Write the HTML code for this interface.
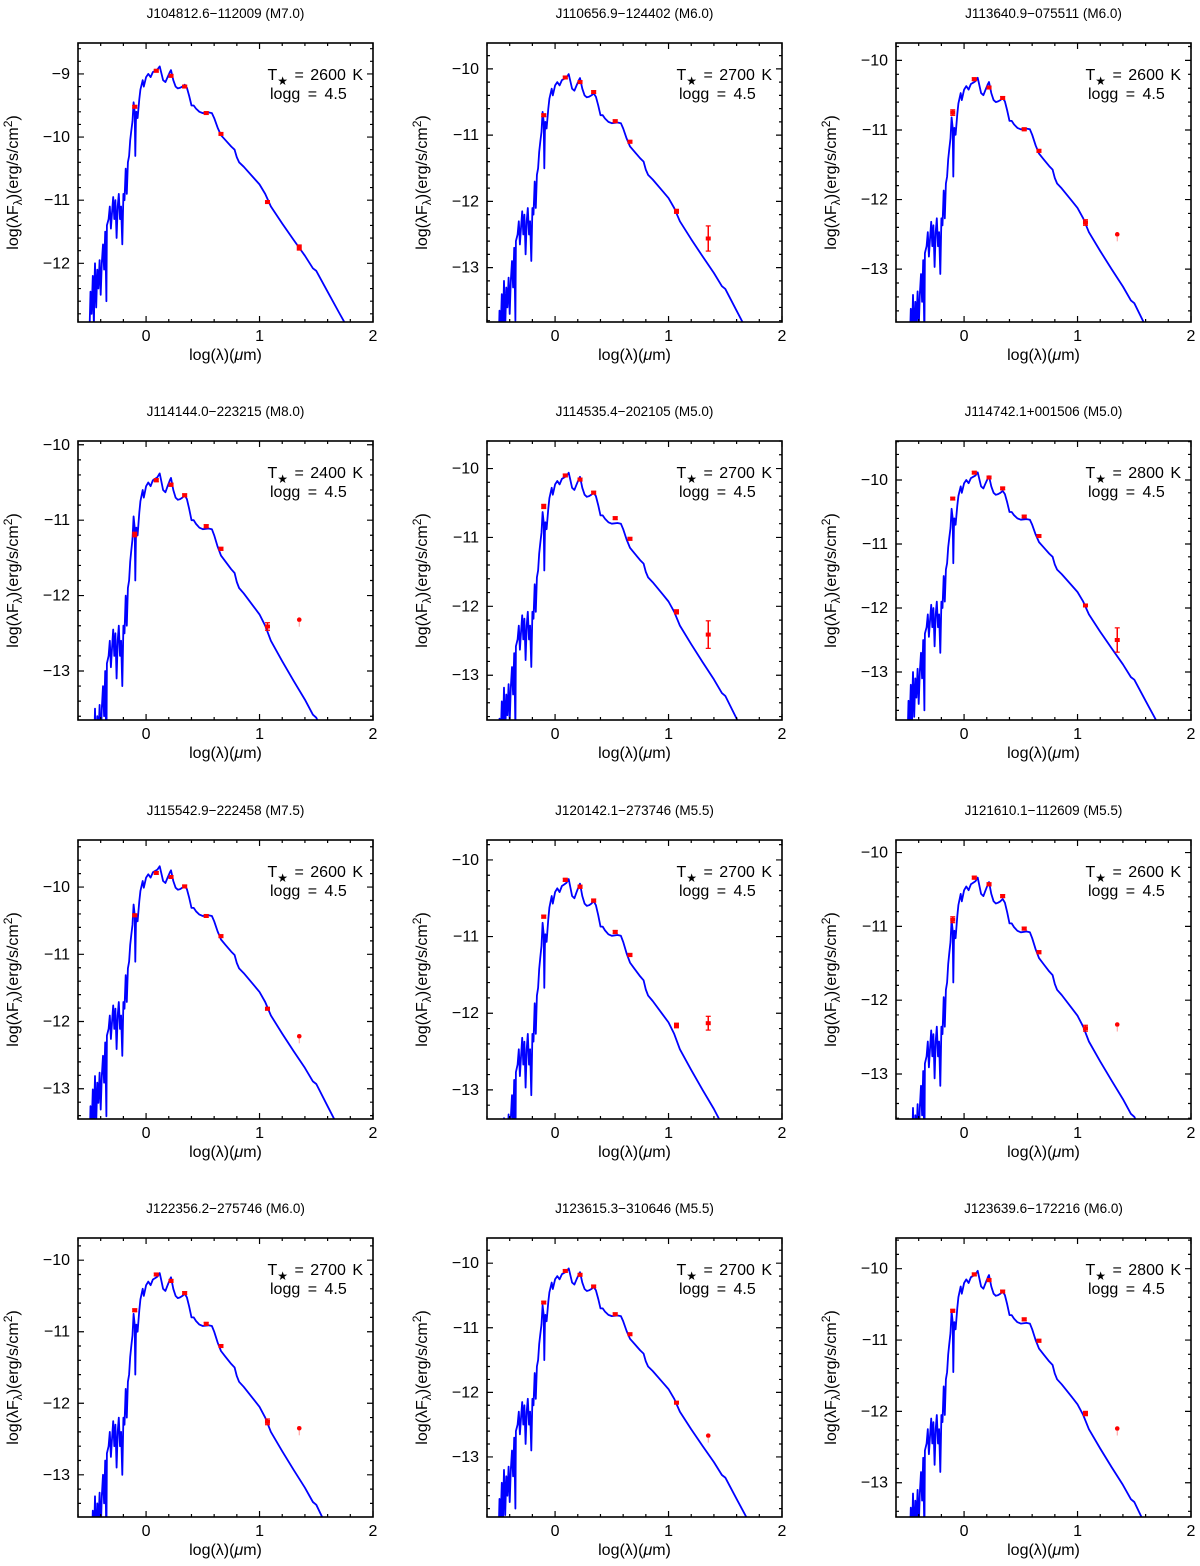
<!DOCTYPE html>
<html><head><meta charset="utf-8"><title>SED fits</title>
<style>
html,body{margin:0;padding:0;background:#fff;}
svg{display:block;font-family:"Liberation Sans",sans-serif;}
</style></head>
<body>
<svg id="fig" width="1200" height="1566" viewBox="0 0 1200 1566" xmlns="http://www.w3.org/2000/svg"></svg>
<script>
// ---- data ----
const titles = ["J104812.6\u2212112009 (M7.0)","J110656.9\u2212124402 (M6.0)","J113640.9\u2212075511 (M6.0)",
"J114144.0\u2212223215 (M8.0)","J114535.4\u2212202105 (M5.0)","J114742.1+001506 (M5.0)",
"J115542.9\u2212222458 (M7.5)","J120142.1\u2212273746 (M5.5)","J121610.1\u2212112609 (M5.5)",
"J122356.2\u2212275746 (M6.0)","J123615.3\u2212310646 (M5.5)","J123639.6\u2212172216 (M6.0)"];
const teffs = [2600,2700,2600,2400,2700,2800,2600,2700,2600,2700,2700,2800];
const yTop = [-8.51,-9.61,-9.75,-9.95,-9.60,-9.39,-9.30,-9.74,-9.83,-9.69,-9.61,-9.57];
const yBottom = [-12.93,-13.82,-13.76,-13.65,-13.65,-13.75,-13.45,-13.38,-13.61,-13.59,-13.93,-13.48];
const peaks = [-8.88,-10.08,-10.25,-10.38,-10.06,-9.88,-9.69,-10.25,-10.34,-10.18,-10.08,-10.03];
const bandX = [-0.1,0.09,0.22,0.34,0.53,0.66,1.07,1.35];
const fluxes = [
[-9.52,-8.95,-9.03,-9.20,-9.62,-9.95,-11.03,-11.75],
[-10.70,-10.13,-10.20,-10.35,-10.79,-11.10,-12.15,-12.56],
[-10.75,-10.27,-10.39,-10.54,-10.99,-11.30,-12.33,-12.50],
[-11.19,-10.47,-10.53,-10.67,-11.08,-11.38,-12.41,-12.32],
[-10.55,-10.10,-10.16,-10.35,-10.72,-11.02,-12.08,-12.41],
[-10.29,-9.885,-9.96,-10.13,-10.57,-10.875,-11.96,-12.50],
[-10.42,-9.79,-9.85,-9.99,-10.43,-10.73,-11.81,-12.22],
[-10.74,-10.26,-10.35,-10.53,-10.94,-11.24,-12.16,-12.13],
[-10.91,-10.34,-10.43,-10.59,-11.03,-11.35,-12.38,-12.33],
[-10.70,-10.20,-10.29,-10.46,-10.89,-11.20,-12.26,-12.35],
[-10.61,-10.12,-10.18,-10.36,-10.79,-11.10,-12.16,-12.67],
[-10.59,-10.08,-10.16,-10.32,-10.71,-11.01,-12.03,-12.24]];
const errors = [
[0.02,0.02,0.02,0.02,0.02,0.02,0.02,0.04],
[0.02,0.02,0.02,0.02,0.02,0.02,0.03,0.19],
[0.04,0.02,0.02,0.02,0.02,0.02,0.04,0],
[0.03,0.02,0.02,0.02,0.02,0.02,0.05,0],
[0.03,0.02,0.02,0.02,0.02,0.02,0.03,0.20],
[0.02,0.02,0.02,0.02,0.02,0.02,0.02,0.19],
[0.02,0.02,0.02,0.02,0.02,0.02,0.02,0],
[0.02,0.02,0.02,0.02,0.02,0.02,0.03,0.09],
[0.04,0.02,0.02,0.02,0.02,0.02,0.04,0],
[0.02,0.02,0.02,0.02,0.02,0.02,0.04,0],
[0.02,0.02,0.02,0.02,0.02,0.02,0.02,0],
[0.02,0.02,0.02,0.02,0.02,0.02,0.03,0]];
const isLimit = [
[0,0,0,0,0,0,0,0],[0,0,0,0,0,0,0,0],[0,0,0,0,0,0,0,1],[0,0,0,0,0,0,0,1],
[0,0,0,0,0,0,0,0],[0,0,0,0,0,0,0,0],[0,0,0,0,0,0,0,1],[0,0,0,0,0,0,0,0],
[0,0,0,0,0,0,0,1],[0,0,0,0,0,0,0,1],[0,0,0,0,0,0,0,1],[0,0,0,0,0,0,0,1]];
// model spectrum template (log lambda, log flux for a peak of -8.88)
const modelX = [-0.50,-0.49,-0.48,-0.47,-0.46,-0.455,-0.45,-0.44,-0.43,-0.42,-0.41,-0.40,-0.39,-0.38,-0.37,-0.36,-0.35,-0.345,-0.33,-0.32,-0.31,-0.30,-0.29,-0.28,-0.27,-0.26,-0.25,-0.24,-0.23,-0.22,-0.21,-0.20,-0.19,-0.18,-0.17,-0.16,-0.15,-0.14,-0.13,-0.12,-0.11,-0.10,-0.095,-0.09,-0.085,-0.075,-0.06,-0.05,-0.03,-0.02,0.0,0.02,0.04,0.06,0.08,0.10,0.12,0.13,0.15,0.17,0.19,0.21,0.22,0.24,0.26,0.28,0.30,0.32,0.34,0.36,0.38,0.40,0.42,0.44,0.47,0.50,0.55,0.58,0.60,0.63,0.66,0.70,0.75,0.78,0.80,0.82,0.86,0.95,1.00,1.05,1.10,1.20,1.30,1.40,1.47,1.50,1.60,1.70,1.80,1.90];
const modelY = [-13.2,-12.45,-12.8,-12.2,-13.0,-12.3,-12.0,-12.7,-12.1,-12.4,-11.95,-12.5,-12.0,-11.7,-12.1,-11.5,-12.6,-11.4,-11.3,-11.1,-11.45,-11.2,-10.95,-11.3,-11.0,-11.6,-11.1,-10.9,-11.3,-11.1,-11.7,-10.9,-11.0,-10.5,-10.9,-10.4,-10.3,-10.05,-9.9,-9.75,-9.45,-9.6,-10.3,-9.75,-9.6,-9.7,-9.4,-9.25,-9.1,-9.2,-9.05,-9.0,-9.05,-8.97,-8.95,-8.93,-8.88,-8.95,-9.1,-9.13,-9.05,-8.97,-8.94,-9.1,-9.2,-9.23,-9.22,-9.2,-9.17,-9.22,-9.35,-9.5,-9.5,-9.55,-9.6,-9.62,-9.61,-9.62,-9.7,-9.85,-9.97,-10.05,-10.15,-10.2,-10.32,-10.4,-10.47,-10.65,-10.75,-10.9,-11.1,-11.37,-11.63,-11.88,-12.08,-12.12,-12.45,-12.78,-13.1,-13.43];
const templatePeak = -8.88;

// ---- layout ----
const colLeft = [78,487,896], rowTop = [43,441,840,1238], PW = 295, PH = 279;
const X0 = -0.6, X1 = 2.0;
const NS = "http://www.w3.org/2000/svg";
const svg = document.getElementById('fig');
function mk(tag, attrs, parent){ const e=document.createElementNS(NS,tag); for(const k in attrs) e.setAttribute(k,attrs[k]); (parent||svg).appendChild(e); return e; }

titles.forEach((title,i)=>{
  const L = colLeft[i%3], T = rowTop[Math.floor(i/3)];
  const ymax = yTop[i], ymin = yBottom[i];
  const sx = v => L + (v-X0)/(X1-X0)*PW;
  const sy = v => T + (ymax-v)/(ymax-ymin)*PH;
  const g = mk('g',{});
  
  

  const tt = mk('text',{x:L+PW/2,y:T-25,'text-anchor':'middle','font-size':13.5,fill:'#000'},g);
  tt.textContent = title;
  
  

  const cp = mk('clipPath',{id:'c'+i},g);
  mk('rect',{x:L,y:T,width:PW,height:PH},cp);

  const off = peaks[i]-templatePeak;
  const d = modelX.map((x,k)=>(k?'L':'M')+sx(x).toFixed(1)+','+sy(modelY[k]+off).toFixed(1)).join('');
  const path = mk('path',{d:d,fill:'none',stroke:'#0000ff','stroke-width':1.8,'stroke-linejoin':'round','clip-path':'url(#c'+i+')'},g);
  
  

  bandX.forEach((bx,k)=>{
    const px = sx(bx), py = sy(fluxes[i][k]), e = errors[i][k];
    const pg = mk('g',{},g);
    
    
    if(isLimit[i][k]){
      mk('circle',{cx:px,cy:py,r:2.3,fill:'#ff0000'},pg);
      mk('line',{x1:px,y1:py+2,x2:px,y2:py+7,stroke:'#ff9999','stroke-width':1},pg);
    } else {
      const y1 = sy(fluxes[i][k]+e), y2 = sy(fluxes[i][k]-e);
      mk('line',{x1:px,y1:y1,x2:px,y2:y2,stroke:'#ff0000','stroke-width':1.5},pg);
      mk('line',{x1:px-2.5,y1:y1,x2:px+2.5,y2:y1,stroke:'#ff0000','stroke-width':1.2},pg);
      mk('line',{x1:px-2.5,y1:y2,x2:px+2.5,y2:y2,stroke:'#ff0000','stroke-width':1.2},pg);
      mk('rect',{x:px-2.5,y:py-2,width:5,height:4,fill:'#ff0000'},pg);
    }
  });

  const fr = mk('rect',{x:L,y:T,width:PW,height:PH,fill:'none',stroke:'#000','stroke-width':1.6},g);
  
  

  let tk = '';
  for(let v=0; v<=13; v++){ const x = X0 + v*0.2;
    const major = Math.abs(x-Math.round(x))<1e-6; const len = major?6:3; const px=sx(x);
    tk += `M${px},${T+PH}v${-len}M${px},${T}v${len}`;
    if(major){ const lb = mk('text',{x:px,y:T+PH+19,'text-anchor':'middle','font-size':16},g); lb.textContent = Math.round(x);
        }
  }
  for(let m=Math.ceil(ymin*5); m<=Math.floor(ymax*5); m++){ const v=m/5; const major = m%5===0; const len = major?6:3; const py=sy(v);
    tk += `M${L},${py}h${len}M${L+PW},${py}h${-len}`;
    if(major){ const lb = mk('text',{x:L-8,y:py+5,'text-anchor':'end','font-size':16},g); lb.textContent = '\u2212'+Math.abs(Math.round(v));
        }
  }
  mk('path',{d:tk,stroke:'#000','stroke-width':1.2,fill:'none'},g);

  const xt = mk('text',{x:L+PW/2,y:T+PH+38,'text-anchor':'middle','font-size':16},g);
  xt.innerHTML = 'log(\u03bb)(<tspan font-style="italic">\u03bc</tspan>m)';
  
  
  const yx = L-60, yy = T+PH/2;
  const yt = mk('text',{x:yx,y:yy,'text-anchor':'middle','font-size':16,transform:`rotate(-90 ${yx} ${yy})`},g);
  yt.innerHTML = 'log(\u03bbF<tspan font-size="12" dy="4">\u03bb</tspan><tspan dy="-4">)(erg/s/cm</tspan><tspan font-size="12" dy="-6">2</tspan><tspan dy="6">)</tspan>';
  
  

  const a1 = mk('text',{x:L+PW-10,y:T+37,'text-anchor':'end','font-size':16,'word-spacing':2},g);
  a1.innerHTML = 'T<tspan font-size="12" dy="5">\u2605</tspan><tspan dy="-5"> = '+teffs[i]+' K</tspan>';
  
  
  const a2 = mk('text',{x:L+192,y:T+56,'text-anchor':'start','font-size':16,'word-spacing':3},g);
  a2.textContent = 'logg = 4.5';
  
  
});
</script>
</body></html>
